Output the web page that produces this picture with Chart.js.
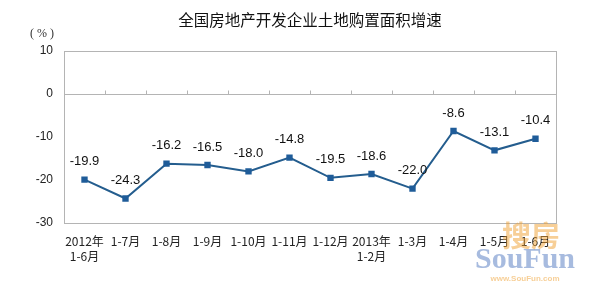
<!DOCTYPE html>
<html>
<head>
<meta charset="utf-8">
<script src="https://cdn.jsdelivr.net/npm/chart.js@4/dist/chart.umd.min.js"></script>
<style>
  html, body { margin: 0; padding: 0; background: #fff; }
  #wrap { width: 591px; height: 294px; }
</style>
</head>
<body>
<div id="wrap"><canvas id="c" width="591" height="294"></canvas></div>
<script>
const categories = [
  ['2012年', '1-6月'], '1-7月', '1-8月', '1-9月', '1-10月', '1-11月', '1-12月',
  ['2013年', '1-2月'], '1-3月', '1-4月', '1-5月', '1-6月'
]
const growth = [-19.9, -24.3, -16.2, -16.5, -18.0, -14.8, -19.5, -18.6, -22.0, -8.6, -13.1, -10.4]
const yTicks = [10, 0, -10, -20, -30]

const lineColor = '#245d8e'
const markColor = '#1f5c99'
const frameColor = '#b4b4b4'

// 外枠・ゼロ線の目盛り・タイトル
const framePlugin = {
  id: 'frame',
  beforeDatasetsDraw(chart) {
    const { ctx, chartArea: a, scales } = chart
    ctx.save()
    ctx.strokeStyle = frameColor
    ctx.lineWidth = 1
    ctx.strokeRect(a.left + 0.5, a.top + 0.5, a.right - a.left, a.bottom - a.top)
    const y0 = Math.round(scales.y.getPixelForValue(0)) + 0.5
    ctx.beginPath()
    ctx.moveTo(a.left, y0)
    ctx.lineTo(a.right, y0)
    const step = scales.x.getPixelForValue(1) - scales.x.getPixelForValue(0)
    for (let i = 1; i < categories.length; i++) {
      const x = Math.round(scales.x.getPixelForValue(i) - step / 2) + 0.5
      ctx.moveTo(x, y0)
      ctx.lineTo(x, y0 - 4)
    }
    ctx.stroke()

    ctx.fillStyle = '#111'
    ctx.font = '15.5px "Noto Sans CJK SC", sans-serif'
    ctx.textAlign = 'center'
    ctx.textBaseline = 'middle'
    ctx.fillText('全国房地产开发企业土地购置面积增速', 310, 20)

    ctx.fillStyle = '#333'
    ctx.font = '12px "Liberation Serif", serif'
    ctx.textAlign = 'left'
    ctx.fillText('( % )', 30, 34)
    ctx.restore()
  }
}

// 数値ラベルと透かし
const valueLabels = {
  id: 'valueLabels',
  afterDatasetsDraw(chart) {
    const { ctx } = chart
    const meta = chart.getDatasetMeta(0)
    ctx.save()
    ctx.fillStyle = '#111'
    ctx.font = '13px "Liberation Sans", Arial, sans-serif'
    ctx.textAlign = 'center'
    ctx.textBaseline = 'middle'
    meta.data.forEach((pt, i) => {
      ctx.fillText(growth[i].toFixed(1), pt.x, pt.y - 18)
    })

    ctx.globalAlpha = 0.5
    ctx.fillStyle = '#f0a030'
    ctx.font = 'bold 29px "Noto Sans CJK SC", sans-serif'
    ctx.fillText('搜房', 531, 236)
    ctx.fillStyle = '#4f78c0'
    ctx.font = 'bold 30px "Liberation Serif", serif'
    ctx.fillText('SouFun', 525, 260)
    ctx.fillStyle = '#f0a030'
    ctx.font = 'bold 8px "Liberation Sans", sans-serif'
    ctx.fillText('www.SouFun.com', 525, 279)
    ctx.restore()
  }
}

new Chart(document.getElementById('c'), {
  type: 'line',
  data: {
    labels: categories,
    datasets: [{
      data: growth,
      borderColor: lineColor,
      borderWidth: 2,
      pointStyle: 'rect',
      pointRadius: 4.5,
      pointBackgroundColor: markColor,
      pointBorderColor: markColor,
      pointBorderWidth: 0,
      tension: 0,
      fill: false
    }]
  },
  options: {
    responsive: false,
    animation: false,
    layout: { padding: { top: 51, right: 35, bottom: 0, left: 0 } },
    plugins: {
      legend: { display: false },
      tooltip: { enabled: false },
      title: { display: false }
    },
    scales: {
      x: {
        offset: true,
        grid: { display: false, drawTicks: false },
        border: { display: false },
        ticks: {
          color: '#222',
          padding: 11,
          maxRotation: 0,
          autoSkip: false,
          font: { family: '"Noto Sans CJK SC", sans-serif', size: 12, lineHeight: 1.25 }
        },
        afterFit(scale) { scale.height = 71 }
      },
      y: {
        min: -30,
        max: 10,
        afterBuildTicks(scale) { scale.ticks = yTicks.map(v => ({ value: v })) },
        grid: { display: false, drawTicks: false },
        border: { display: false },
        ticks: {
          color: '#222',
          padding: 11,
          font: { family: '"Liberation Sans", Arial, sans-serif', size: 12 }
        },
        afterFit(scale) { scale.width = 64 }
      }
    }
  },
  plugins: [framePlugin, valueLabels]
})
</script>
</body>
</html>
